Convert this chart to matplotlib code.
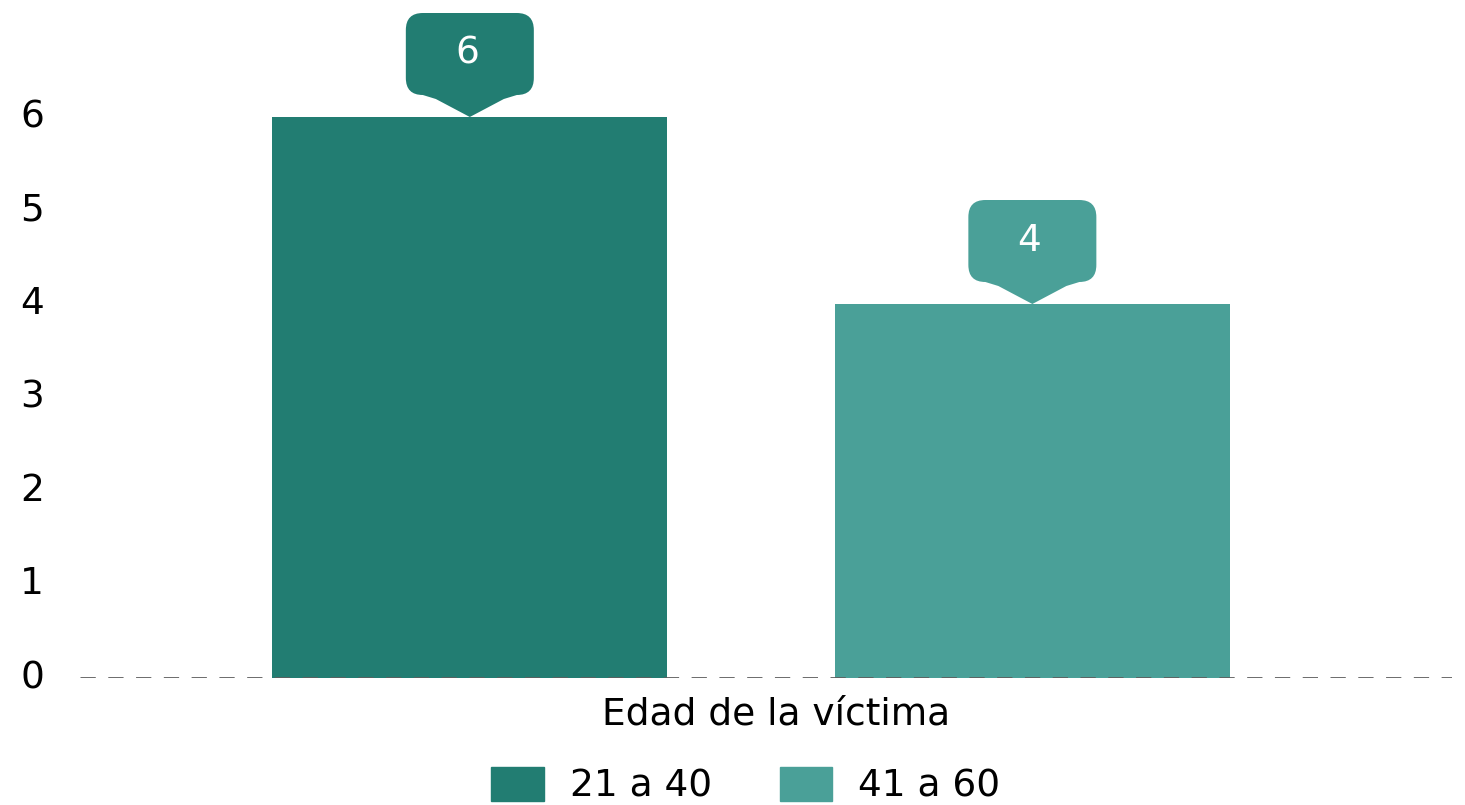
import matplotlib
matplotlib.use("Agg")
import matplotlib.pyplot as plt
from matplotlib.path import Path
from matplotlib.patches import PathPatch
import matplotlib.transforms as mtransforms

# data
series = ["21 a 40", "41 a 60"]
values = [6, 4]
colors = ["#227D72", "#4AA098"]
category = "Edad de la víctima"
yticks = [0, 1, 2, 3, 4, 5, 6]

W, H, DPI = 1465, 805, 100
fig = plt.figure(figsize=(W / DPI, H / DPI), dpi=DPI)

# axes placed in pixels: left 80, right 1452, y=0 at 678, ylim top 7
ax_left, ax_right, ax_bottom, ax_top = 80, 1452, 678, 23.5
ax = fig.add_axes([ax_left / W, (H - ax_bottom) / H,
                   (ax_right - ax_left) / W, (ax_bottom - ax_top) / H])

xpos = [0, 1]
ax.bar(xpos, values, width=0.702, color=colors, zorder=2)
ax.set_xlim(-0.693, 1.746)
ax.set_ylim(0, 7)

ax.axhline(0, color="#5e5e5e", lw=2.0, ls=(0, (5.5, 4.5)), zorder=3)

for s in ax.spines.values():
    s.set_visible(False)
ax.set_yticks(yticks)
ax.set_xticks([])
ax.tick_params(axis="y", length=0, pad=26, labelsize=27)
for lab in ax.get_yticklabels():
    lab.set_verticalalignment("center")

fig.text(776 / W, 1 - 714 / H, category, ha="center", va="center", fontsize=27)

# callout labels drawn in pixel space above each bar
def callout(x, v, color):
    tx, ty = ax.transData.transform((x, v))
    hw, r = 64, 17
    b, t = 22, 104
    pw = 34
    verts = [
        (0, 0),
        (pw, b - 4),
        (hw - r, b),
        (hw, b), (hw, b + r),
        (hw, t - r),
        (hw, t), (hw - r, t),
        (-hw + r, t),
        (-hw, t), (-hw, t - r),
        (-hw, b + r),
        (-hw, b), (-hw + r, b),
        (-pw, b - 4),
        (0, 0),
    ]
    codes = [Path.MOVETO, Path.LINETO, Path.LINETO,
             Path.CURVE3, Path.CURVE3, Path.LINETO,
             Path.CURVE3, Path.CURVE3, Path.LINETO,
             Path.CURVE3, Path.CURVE3, Path.LINETO,
             Path.CURVE3, Path.CURVE3, Path.LINETO, Path.CLOSEPOLY]
    verts = [(tx + px, ty + py) for px, py in verts]
    patch = PathPatch(Path(verts, codes), facecolor=color, edgecolor="none",
                      transform=mtransforms.IdentityTransform(), zorder=4)
    fig.patches.append(patch)
    fig.text((tx - 3) / W, (ty + (b + t) / 2) / H, str(v), color="white",
             fontsize=27, ha="center", va="center", zorder=5)

for x, v, c in zip(xpos, values, colors):
    callout(x, v, c)

handles = [plt.Rectangle((0, 0), 1, 1, color=c) for c in colors]
fig.legend(handles, series, loc="center", bbox_to_anchor=(746 / W, 1 - 786 / H),
           ncol=2, frameon=False, fontsize=27, handlelength=1.4, handleheight=1.0,
           handletextpad=0.7, columnspacing=1.8)

fig.savefig("out.png", dpi=DPI)
